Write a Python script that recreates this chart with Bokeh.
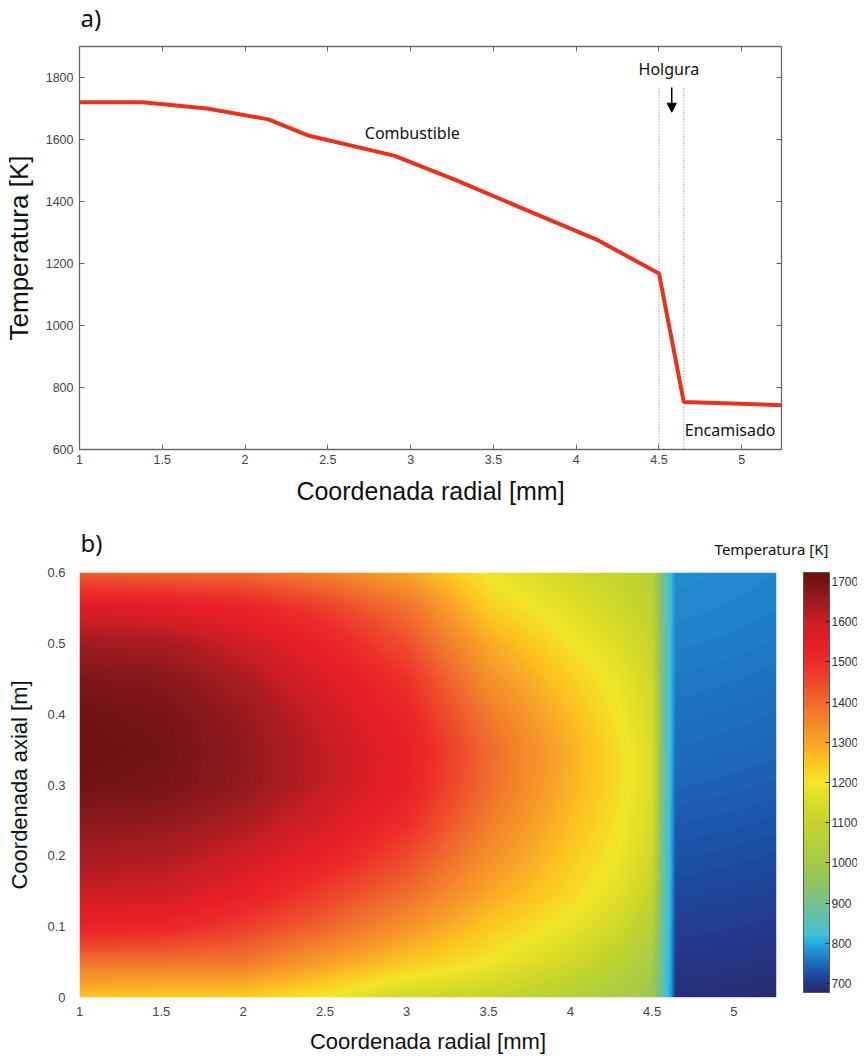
import numpy as np
from bokeh.plotting import figure
from bokeh.layouts import column
from bokeh.models import (FixedTicker, LinearAxis, Arrow, NormalHead,
                          LinearColorMapper, ColorBar, Range1d)
from bokeh.core.properties import value
from bokeh.embed import file_html
from bokeh.resources import INLINE

# ---------------- Panel a) data ----------------
radius_mm = [1.0, 1.38, 1.77, 2.14, 2.38, 2.9, 3.27, 3.7, 4.12, 4.5, 4.65, 5.24]
temperature_K = [1720, 1720, 1700, 1665, 1613, 1548, 1470, 1372, 1278, 1168, 753, 743]
gap_edges_mm = [4.5, 4.65]
x_ticks_a = [1, 1.5, 2, 2.5, 3, 3.5, 4, 4.5, 5]
y_ticks_a = [600, 800, 1000, 1200, 1400, 1600, 1800]

# ---------------- Panel b) data ----------------
r_nodes = [1.0, 1.5, 2.0, 2.5, 3.0, 3.5, 4.0, 4.3, 4.5, 4.56, 4.62, 4.65, 5.0, 5.26]
z_nodes = [0.0, 0.05, 0.1, 0.15, 0.2, 0.25, 0.3, 0.35, 0.4, 0.45, 0.5, 0.55, 0.6]
T_rows = [
    [1250, 1240, 1235, 1200, 1130, 1110, 1060, 1010, 985, 870, 790, 690, 687, 684],
    [1390, 1385, 1380, 1310, 1250, 1200, 1130, 1070, 1010, 880, 795, 700, 697, 694],
    [1530, 1520, 1470, 1410, 1330, 1250, 1185, 1130, 1060, 890, 798, 710, 707, 704],
    [1605, 1595, 1545, 1470, 1400, 1300, 1225, 1170, 1100, 900, 800, 720, 717, 714],
    [1640, 1632, 1595, 1535, 1450, 1340, 1245, 1195, 1130, 905, 802, 728, 725, 722],
    [1675, 1668, 1635, 1580, 1500, 1370, 1265, 1205, 1150, 910, 805, 736, 733, 730],
    [1708, 1700, 1665, 1610, 1535, 1395, 1280, 1215, 1158, 915, 808, 744, 741, 738],
    [1715, 1706, 1668, 1612, 1540, 1400, 1285, 1215, 1158, 918, 810, 751, 748, 745],
    [1710, 1700, 1660, 1595, 1520, 1375, 1265, 1200, 1140, 918, 810, 757, 754, 751],
    [1690, 1680, 1635, 1570, 1490, 1335, 1240, 1185, 1125, 918, 812, 763, 760, 757],
    [1650, 1640, 1595, 1530, 1440, 1295, 1205, 1155, 1105, 916, 812, 769, 766, 763],
    [1570, 1560, 1530, 1470, 1390, 1240, 1170, 1125, 1085, 914, 814, 774, 771, 768],
    [1420, 1405, 1400, 1360, 1300, 1195, 1130, 1100, 1065, 912, 815, 778, 775, 772],
]
x_ticks_b = [1, 1.5, 2, 2.5, 3, 3.5, 4, 4.5, 5]
y_ticks_b = [0, 0.1, 0.2, 0.3, 0.4, 0.5, 0.6]
cbar_ticks = [700, 800, 900, 1000, 1100, 1200, 1300, 1400, 1500, 1600, 1700]
T_low, T_high = 678, 1722

# colormap anchors (value -> colour)
cmap_values = [680, 700, 720, 740, 760, 780, 800, 820, 860, 900, 950, 1000, 1050,
               1100, 1150, 1200, 1260, 1300, 1350, 1400, 1450, 1500, 1550, 1600,
               1630, 1660, 1690, 1722]
cmap_colors = ["#282c6c", "#25368a", "#1c4a9f", "#1e62b4", "#1e78c2", "#2490d2",
               "#20b0e2", "#40c0d8", "#60c0b0", "#78c090", "#90c460", "#a4ca48",
               "#b4d03a", "#c4d42c", "#d8dc28", "#f2e628", "#fcc020", "#f8a428",
               "#f4882a", "#f06a2e", "#ee4a2c", "#ec2c2a", "#e61e26", "#cc1e24",
               "#b01c22", "#981a1e", "#801618", "#6a1012"]

SANS = "Liberation Sans"
ANNOT = "Noto Sans"


def header(frame_w, height, xs, ys, texts, sizes, aligns):
    # x data units = page pixels (frame starts at page x = 79)
    h = figure(frame_width=frame_w, frame_height=height,
               x_range=Range1d(79, 79 + frame_w), y_range=Range1d(0, height),
               output_backend="svg", toolbar_location=None, title_location=None,
               x_axis_location=None, y_axis_location=None,
               min_border_left=71, min_border_right=0, min_border_top=0,
               min_border_bottom=0)
    h.grid.visible = False
    h.outline_line_color = None
    for x, y, t, s, a in zip(xs, ys, texts, sizes, aligns):
        h.text(x=[x], y=[y], text=[t], text_font=value(ANNOT), text_font_size=s,
               text_align=a, text_baseline="middle", text_color="#111111")
    return h


# ---------------- Panel a) ----------------
hdr_a = header(702, 43, [80], [26], ["a)"], ["24px"], ["left"])

p1 = figure(frame_width=702, frame_height=403, x_range=Range1d(1, 5.24),
            y_range=Range1d(600, 1900), output_backend="svg", toolbar_location=None,
            title_location=None,
            min_border_left=71, min_border_right=75, min_border_top=3,
            min_border_bottom=62)
p1.xgrid.visible = False
p1.ygrid.visible = False
p1.outline_line_color = "#777777"
p1.outline_line_width = 1.3

p1.segment(x0=gap_edges_mm, y0=[600, 600], x1=gap_edges_mm, y1=[1772, 1772],
           line_dash="1 2", line_color="#8a8a8a", line_width=1.2)
p1.line(radius_mm, temperature_K, line_color="#e6321f", line_width=4)

p1.add_layout(Arrow(end=NormalHead(size=9, fill_color="black", line_color="black"),
                    x_start=4.577, y_start=1768, x_end=4.577, y_end=1688,
                    line_width=1.5, line_color="black"))
p1.text(x=[4.56, 3.01, 4.93], y=[1826, 1621, 664],
        text=["Holgura", "Combustible", "Encamisado"],
        text_align="center", text_baseline="middle", text_font=value(ANNOT),
        text_font_size="16px", text_color="#111111")

for ax in (p1.xaxis[0], p1.yaxis[0]):
    ax.major_tick_in = 5
    ax.major_tick_out = 0
    ax.minor_tick_line_color = None
    ax.axis_line_color = "#666666"
    ax.major_tick_line_color = "#666666"
    ax.major_label_text_font = SANS
    ax.major_label_text_font_size = "12.5px"
    ax.major_label_text_color = "#444444"
    ax.axis_label_text_font = SANS
    ax.axis_label_text_font_style = "normal"
    ax.axis_label_text_color = "#111111"
p1.xaxis[0].ticker = FixedTicker(ticks=x_ticks_a)
p1.yaxis[0].ticker = FixedTicker(ticks=y_ticks_a)
p1.xaxis[0].axis_label = "Coordenada radial [mm]"
p1.yaxis[0].axis_label = "Temperatura [K]"
p1.xaxis[0].axis_label_text_font_size = "25px"
p1.yaxis[0].axis_label_text_font_size = "26px"
p1.xaxis[0].major_label_standoff = 5
p1.yaxis[0].major_label_standoff = 6
p1.xaxis[0].axis_label_standoff = 10
p1.yaxis[0].axis_label_standoff = 9

top_ax = LinearAxis(ticker=FixedTicker(ticks=x_ticks_a))
right_ax = LinearAxis(ticker=FixedTicker(ticks=y_ticks_a))
for ax in (top_ax, right_ax):
    ax.major_tick_in = 5
    ax.major_tick_out = 0
    ax.minor_tick_line_color = None
    ax.axis_line_color = "#666666"
    ax.major_tick_line_color = "#666666"
    ax.major_label_text_font_size = "1px"
    ax.major_label_text_color = None
    ax.major_label_standoff = 0
p1.add_layout(top_ax, "above")
p1.add_layout(right_ax, "right")

# ---------------- Panel b) ----------------
hdr_b = header(780, 48, [80, 771], [17, 11], ["b)", "Temperatura [K]"],
               ["24px", "15px"], ["left", "center"])

r0, r1 = r_nodes[0], r_nodes[-1]
nx, ny = 700, 425
rr = np.linspace(r0, r1, nx)
zz = np.linspace(z_nodes[0], z_nodes[-1], ny)
T_tab = np.array(T_rows, dtype=float)
tmp = np.array([np.interp(rr, r_nodes, row) for row in T_tab])
field = np.array([np.interp(zz, z_nodes, tmp[:, j]) for j in range(nx)]).T.astype(np.float32)

# palette of 256 steps built from the colour-bar anchors
def hex2rgb(h):
    return [int(h[i:i + 2], 16) for i in (1, 3, 5)]
anchors = np.array([hex2rgb(c) for c in cmap_colors], dtype=float)
lev = np.linspace(T_low, T_high, 256)
palette = []
for v in lev:
    rgb = [int(round(np.interp(v, cmap_values, anchors[:, k]))) for k in range(3)]
    palette.append("#%02x%02x%02x" % tuple(rgb))
mapper = LinearColorMapper(palette=palette, low=T_low, high=T_high)

p2 = figure(frame_width=697, frame_height=425, x_range=Range1d(r0, r1),
            y_range=Range1d(0, 0.6), output_backend="svg", toolbar_location=None,
            title_location=None,
            min_border_left=71, min_border_right=80, min_border_top=13,
            min_border_bottom=52)
p2.xgrid.visible = False
p2.ygrid.visible = False
p2.outline_line_color = None
p2.image(image=[field], x=r0, y=0, dw=r1 - r0, dh=0.6, color_mapper=mapper)

for ax in (p2.xaxis[0], p2.yaxis[0]):
    ax.major_tick_line_color = None
    ax.minor_tick_line_color = None
    ax.axis_line_color = None
    ax.major_label_text_font = SANS
    ax.major_label_text_font_size = "13px"
    ax.major_label_text_color = "#444444"
    ax.axis_label_text_font = SANS
    ax.axis_label_text_font_style = "normal"
    ax.axis_label_text_color = "#111111"
    ax.axis_label_text_font_size = "22px"
p2.xaxis[0].ticker = FixedTicker(ticks=x_ticks_b)
p2.yaxis[0].ticker = FixedTicker(ticks=y_ticks_b)
p2.xaxis[0].axis_label = "Coordenada radial [mm]"
p2.yaxis[0].axis_label = "Coordenada axial [m]"
p2.xaxis[0].major_label_standoff = 3
p2.yaxis[0].major_label_standoff = 8
p2.xaxis[0].axis_label_standoff = 10
p2.yaxis[0].axis_label_standoff = 12

cbar = ColorBar(color_mapper=mapper, ticker=FixedTicker(ticks=cbar_ticks),
                width=26, height=420, padding=0, margin=0, location=(27, 5),
                major_tick_in=4, major_tick_out=0, major_tick_line_color="#222222",
                minor_tick_line_color=None, bar_line_color="#555555",
                major_label_text_font=SANS, major_label_text_font_size="12px",
                major_label_text_color="#333333", label_standoff=2,
                background_fill_color=None)
p2.add_layout(cbar, "right")

layout = column(hdr_a, p1, hdr_b, p2, spacing=0)
open("out.html", "w").write(file_html(layout, INLINE))
